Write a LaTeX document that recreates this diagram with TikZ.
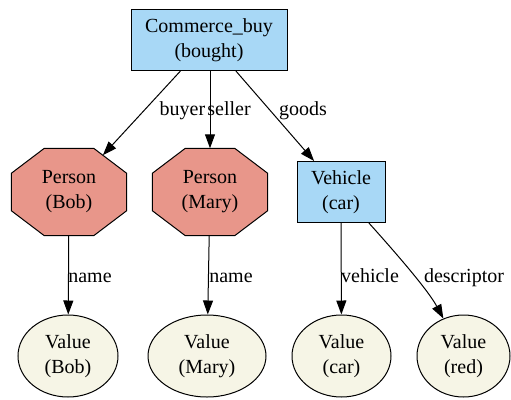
\documentclass[tikz,border=0pt]{standalone}
\usepackage{fontspec}
\setmainfont{Liberation Serif}
\usetikzlibrary{shapes.geometric,arrows.meta,calc,backgrounds}
\definecolor{boxblue}{HTML}{A8D8F6}
\definecolor{salmonfill}{HTML}{E8968A}
\definecolor{beigefill}{HTML}{F6F5E6}
\newcommand\octagonfor[1]{%
  \path[octfill] ($(#1.north west)+(33,0)$) -- ($(#1.north east)+(-33,0)$)
    -- ($(#1.north east)+(0,25)$) -- ($(#1.south east)+(0,-25)$)
    -- ($(#1.south east)+(-33,0)$) -- ($(#1.south west)+(33,0)$)
    -- ($(#1.south west)+(0,-25)$) -- ($(#1.north west)+(0,25)$) -- cycle;}
\begin{document}
\begin{tikzpicture}[x=1pt,y=-1pt,
  every node/.style={font=\fontsize{20}{25}\selectfont, align=center, inner sep=0pt},
  boxnode/.style={draw, fill=boxblue, rectangle, line width=1pt},
  octnode/.style={rectangle, minimum width=115pt, minimum height=87pt},
  octfill/.style={draw, fill=salmonfill, line width=1pt, line join=miter},
  valnode/.style={draw, fill=beigefill, ellipse, line width=1pt},
  conn/.style={draw, line width=1pt, -{Triangle[length=14pt,width=10pt]}},
  lab/.style={anchor=base}]
\useasboundingbox (0,0) rectangle (511,399);
% nodes
\node[boxnode, minimum width=156pt, minimum height=61pt] (cb) at (209,40) {Commerce\_buy\\(bought)};
\node[octnode] (pb) at (69,192) {Person\\(Bob)};
\node[octnode] (pm) at (210,192) {Person\\(Mary)};
\node[boxnode, minimum width=88pt, minimum height=61pt] (veh) at (341,192) {Vehicle\\(car)};
\node[valnode, minimum width=100pt, minimum height=82pt] (vb) at (68,356) {Value\\(Bob)};
\node[valnode, minimum width=118pt, minimum height=82pt] (vm) at (207,356) {Value\\(Mary)};
\node[valnode, minimum width=99pt, minimum height=82pt] (vc) at (341.5,356) {Value\\(car)};
\node[valnode, minimum width=93pt, minimum height=82pt] (vr) at (463.5,356) {Value\\(red)};
\begin{scope}[on background layer]
  \octagonfor{pb}
  \octagonfor{pm}
\end{scope}
% connectors
\draw[conn, shorten >=-9.4pt] (cb) -- (pb);
\draw[conn] (cb.south -| pm) -- (pm);
\draw[conn] (cb) -- (veh);
\draw[conn] (pb) -- (vb);
\draw[conn] (pm) -- (vm);
\draw[conn] (veh) -- (vc);
\draw[conn] (veh) .. controls (395,252) and (428,290) .. (vr);
% labels
\node[lab] (lbuyer) at (182.5,115) {buyer};
\node[lab] (lseller) at (229,115) {seller};
\node[lab] (lgoods) at (303,115) {goods};
\node[lab] (lname1) at (90,282) {name};
\node[lab] (lname2) at (231,282) {name};
\node[lab] (lvehicle) at (370,282) {vehicle};
\node[lab] (ldesc) at (464,282) {descriptor};
\end{tikzpicture}
\end{document}
